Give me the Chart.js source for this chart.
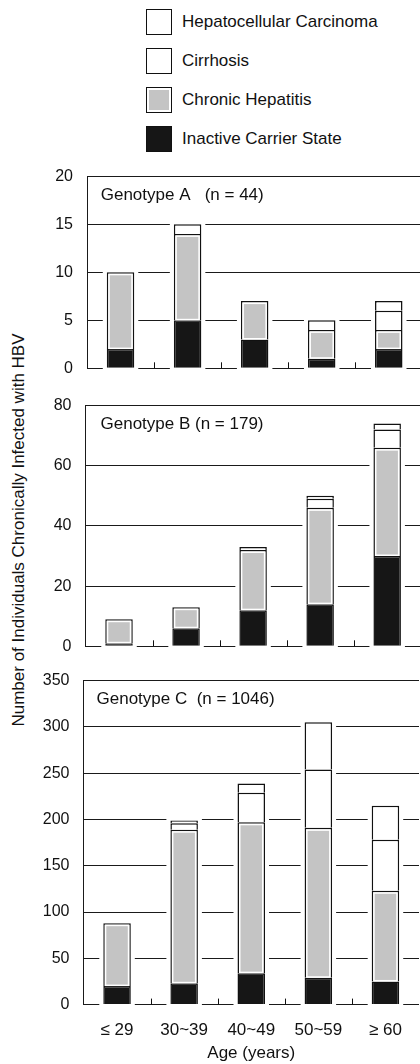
<!DOCTYPE html>
<html>
<head>
<meta charset="utf-8">
<script src="https://cdn.jsdelivr.net/npm/chart.js@4.4.1/dist/chart.umd.min.js"></script>
<style>
  html, body { margin: 0; padding: 0; background: #fff; }
  body { width: 420px; height: 1064px; overflow: hidden; position: relative;
         font-family: "Liberation Sans", Arial, sans-serif; color: #111; }
  canvas { position: absolute; left: 0; }
  #legend { position: absolute; left: 146px; top: 9px; }
  .item { display: flex; align-items: center; height: 26px; margin-bottom: 13px; }
  .swatch { width: 26px; height: 26px; box-sizing: border-box; border: 1.5px solid #111; margin-right: 10px; }
  .item span { font-size: 17px; }
  #ytitle { position: absolute; left: 19px; top: 530px; white-space: nowrap; font-size: 17px;
            transform: translate(-50%, -50%) rotate(-90deg); }
</style>
</head>
<body>
<div id="legend"></div>
<div id="ytitle">Number of Individuals Chronically Infected with HBV</div>
<canvas id="chartA" width="440" height="225" style="top:160px"></canvas>
<canvas id="chartB" width="440" height="275" style="top:385px"></canvas>
<canvas id="chartC" width="440" height="404" style="top:660px"></canvas>
<script>
// Age groups
const ageGroups = ['≤ 29', '30~39', '40~49', '50~59', '≥ 60'];

// Clinical stages, bottom of stack first
const stageNames = ['Inactive Carrier State', 'Chronic Hepatitis', 'Cirrhosis', 'Hepatocellular Carcinoma'];
const stageColors = ['#161616', '#c4c4c4', '#ffffff', '#ffffff'];

// Genotype A (n = 44)
const inactiveA  = [2, 5, 3, 1, 2];
const chronicA   = [8, 9, 4, 3, 2];
const cirrhosisA = [0, 1, 0, 1, 2];
const hccA       = [0, 0, 0, 0, 1];

// Genotype B (n = 179)
const inactiveB  = [1, 6, 12, 14, 30];
const chronicB   = [8, 7, 20, 32, 36];
const cirrhosisB = [0, 0, 1, 3, 6];
const hccB       = [0, 0, 0, 1, 2];

// Genotype C (n = 1046)
const inactiveC  = [20, 23, 34, 29, 25];
const chronicC   = [68, 166, 163, 162, 98];
const cirrhosisC = [0, 7, 32, 63, 55];
const hccC       = [0, 3, 10, 51, 37];

// Y axis ranges per panel
const yMaxA = 20,  yStepA = 5;
const yMaxB = 80,  yStepB = 20;
const yMaxC = 350, yStepC = 50;

const FONT = '"Liberation Sans", Arial, sans-serif';
const INK = '#111';
const BW = 1.5;

// Legend (top stage listed first)
const legend = document.getElementById('legend');
for (let i = stageNames.length - 1; i >= 0; i--) {
  const item = document.createElement('div');
  item.className = 'item';
  const sw = document.createElement('div');
  sw.className = 'swatch';
  sw.style.background = stageColors[i];
  if (i === 1) sw.style.boxShadow = 'inset 0 0 0 2px #fff';
  const t = document.createElement('span');
  t.textContent = stageNames[i];
  item.appendChild(sw); item.appendChild(t);
  legend.appendChild(item);
}

// White gap around each bar column so grid lines and baseline stop short of it
const haloPlugin = {
  id: 'halo',
  beforeDatasetsDraw(chart) {
    const ctx = chart.ctx, area = chart.chartArea;
    const n = chart.data.labels.length;
    ctx.save();
    ctx.fillStyle = '#fff';
    for (let i = 0; i < n; i++) {
      let top = area.bottom, left = Infinity, right = -Infinity;
      chart.data.datasets.forEach((ds, d) => {
        const el = chart.getDatasetMeta(d).data[i];
        if (!el) return;
        const p = el.getProps(['x', 'y', 'width'], true);
        top = Math.min(top, p.y);
        left = Math.min(left, p.x - p.width / 2);
        right = Math.max(right, p.x + p.width / 2);
      });
      ctx.fillRect(left - 4, top - 2, right - left + 8, area.bottom - top + 4);
    }
    ctx.restore();
  },
  afterDatasetsDraw(chart) {
    const ctx = chart.ctx, area = chart.chartArea;
    // white inner rim on chronic hepatitis segments
    const meta = chart.getDatasetMeta(1);
    ctx.save();
    ctx.strokeStyle = '#fff';
    ctx.lineWidth = 1.5;
    meta.data.forEach(el => {
      const p = el.getProps(['x', 'y', 'base', 'width'], true);
      if (p.base - p.y < 6) return;
      const l = p.x - p.width / 2 + BW, r = p.x + p.width / 2 - BW, t = p.y + BW;
      ctx.strokeRect(l + 0.75, t + 0.75, r - l - 1.5, p.base - t - 1.5);
    });
    // short ticks between age groups
    const xs = chart.scales.x;
    ctx.strokeStyle = INK;
    ctx.lineWidth = 1;
    ctx.beginPath();
    for (let i = 1; i < chart.data.labels.length; i++) {
      const bx = Math.round((xs.getPixelForValue(i - 1) + xs.getPixelForValue(i)) / 2) + 0.5;
      ctx.moveTo(bx, area.bottom);
      ctx.lineTo(bx, area.bottom - 6);
    }
    ctx.stroke();
    ctx.restore();
  }
};

// Genotype label inside the top-left corner of each panel
const panelTitle = {
  id: 'panelTitle',
  afterDraw(chart, args, opts) {
    const ctx = chart.ctx, area = chart.chartArea;
    ctx.save();
    ctx.font = '17px ' + FONT;
    ctx.fillStyle = INK;
    ctx.textBaseline = 'middle';
    ctx.textAlign = 'left';
    ctx.fillText(opts.text, area.left + opts.dx, area.top + 19);
    ctx.restore();
  }
};

function makePanel(id, series, yMax, yStep, title, dx, pad, showX) {
  const datasets = series.map((vals, i) => ({
    label: stageNames[i],
    data: vals,
    backgroundColor: stageColors[i],
    borderColor: INK,
    borderWidth: BW,
    borderSkipped: 'start',
    barPercentage: 0.41,
    categoryPercentage: 1.0
  }));
  const xScale = {
    stacked: true,
    offset: true,
    display: showX,
    grid: { display: false, drawTicks: false },
    border: { display: false },
    ticks: { color: INK, padding: 16, maxRotation: 0, font: { size: 17, family: FONT } },
    title: { display: true, text: 'Age (years)', color: INK, padding: 0, font: { size: 17, family: FONT } }
  };
  if (showX) xScale.afterFit = s => { s.height = 59.4; };
  return new Chart(document.getElementById(id), {
    type: 'bar',
    data: { labels: ageGroups, datasets },
    plugins: [haloPlugin, panelTitle],
    options: {
      responsive: false,
      animation: false,
      layout: { padding: pad },
      plugins: {
        legend: { display: false },
        tooltip: { enabled: false },
        panelTitle: { text: title, dx: dx }
      },
      scales: {
        x: xScale,
        y: {
          stacked: true,
          min: 0,
          max: yMax,
          ticks: { stepSize: yStep, padding: 0, color: INK, font: { size: 16, family: FONT } },
          // invisible tick marks keep the labels clear of the axis line
          grid: { color: '#1a1a1a', lineWidth: 1, drawTicks: true, tickLength: 14, tickColor: 'rgba(0,0,0,0)' },
          border: { display: true, color: '#1a1a1a', width: 1 },
          afterFit: s => { s.width = 60; }
        }
      }
    }
  });
}

makePanel('chartA', [inactiveA, chronicA, cirrhosisA, hccA], yMaxA, yStepA,
  'Genotype A   (n = 44)', 13.7, { left: 27, right: 17.7, top: 16.3, bottom: 16.7 }, false);
makePanel('chartB', [inactiveB, chronicB, cirrhosisB, hccB], yMaxB, yStepB,
  'Genotype B (n = 179)', 15, { left: 25.5, right: 19.3, top: 20.5, bottom: 13.7 }, false);
makePanel('chartC', [inactiveC, chronicC, cirrhosisC, hccC], yMaxC, yStepC,
  'Genotype C  (n = 1046)', 13, { left: 23.5, right: 21, top: 20.7, bottom: 0 }, true);
</script>
</body>
</html>
